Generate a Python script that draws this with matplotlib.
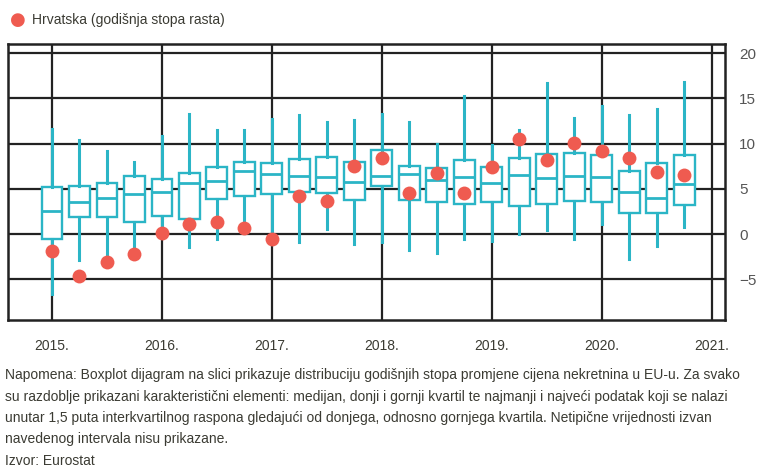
import matplotlib
matplotlib.use("Agg")
import matplotlib.pyplot as plt

# Quarterly periods 2015Q1 .. 2020Q4
years = [2015, 2016, 2017, 2018, 2019, 2020]
quarters = [0.0, 0.25, 0.5, 0.75]

whislo = [-6.6, -2.9, -2.6, -1.8, 0.2, -1.4, -0.6, 0.8,
          -0.5, -0.85, 0.6, -1.1, -0.9, -1.8, -2.1, -0.5,
          -0.75, 0.0, 0.5, -0.5, 1.1, -2.8, -1.3, 0.75]
q1 = [-0.55, 1.9, 1.9, 1.35, 2.0, 1.7, 3.9, 4.2,
      4.4, 4.7, 4.5, 3.75, 5.3, 3.75, 3.55, 3.3,
      3.55, 3.15, 3.35, 3.7, 3.5, 2.3, 2.3, 3.2]
med = [2.5, 3.5, 4.0, 4.4, 4.7, 5.6, 5.9, 6.95,
       6.6, 6.4, 6.3, 5.8, 6.4, 6.6, 6.0, 6.25,
       5.6, 6.5, 6.2, 6.4, 6.3, 4.6, 3.95, 5.5]
q3 = [5.2, 5.3, 5.65, 6.4, 6.1, 6.7, 7.4, 8.0,
      7.8, 8.3, 8.5, 8.0, 9.25, 7.5, 7.25, 8.2,
      7.4, 8.4, 8.8, 8.95, 8.7, 7.0, 7.9, 8.7]
whishi = [11.65, 10.4, 9.15, 8.0, 10.8, 13.3, 11.5, 11.5,
          12.7, 13.1, 12.4, 12.65, 13.3, 12.4, 10.0, 15.3,
          9.8, 11.5, 16.7, 12.85, 14.1, 13.2, 13.8, 16.85]
croatia = [-1.9, -4.6, -3.05, -2.2, 0.15, 1.1, 1.35, 0.7,
           -0.55, 4.2, 3.65, 7.5, 8.45, 4.5, 6.75, 4.55,
           7.4, 10.55, 8.15, 10.1, 9.15, 8.4, 6.9, 6.5]

xtick_labels = ["2015.", "2016.", "2017.", "2018.", "2019.", "2020.", "2021."]
ytick_values = [-5, 0, 5, 10, 15, 20]
legend_label = "Hrvatska (godišnja stopa rasta)"
note_lines = [
    "Napomena: Boxplot dijagram na slici prikazuje distribuciju godišnjih stopa promjene cijena nekretnina u EU-u. Za svako",
    "su razdoblje prikazani karakteristični elementi: medijan, donji i gornji kvartil te najmanji i najveći podatak koji se nalazi",
    "unutar 1,5 puta interkvartilnog raspona gledajući od donjega, odnosno gornjega kvartila. Netipične vrijednosti izvan",
    "navedenog intervala nisu prikazane.",
    "Izvor: Eurostat",
]

positions = [y + q for y in years for q in quarters]

FONT = ["Liberation Sans Narrow", "Liberation Sans", "DejaVu Sans"]
plt.rcParams["font.family"] = FONT

TEAL = "#2bb5c6"
RED = "#ef5b50"
TXT = "#3b3b33"

fig = plt.figure(figsize=(7.67, 4.71), dpi=100)
ax = fig.add_axes([8 / 767, (471 - 320) / 471, 717 / 767, 276 / 471])

stats = []
for i in range(len(positions)):
    stats.append(dict(whislo=whislo[i], q1=q1[i], med=med[i], q3=q3[i],
                      whishi=whishi[i], fliers=[]))

ax.bxp(stats, positions=positions, widths=0.19, patch_artist=True,
       showcaps=False, showfliers=False,
       boxprops=dict(facecolor="white", edgecolor=TEAL, linewidth=1.7),
       medianprops=dict(color=TEAL, linewidth=2.0),
       whiskerprops=dict(color=TEAL, linewidth=2.2),
       manage_ticks=False, zorder=3)

ax.plot(positions, croatia, linestyle="none", marker="o", markersize=10,
        color=RED, markeredgewidth=0, zorder=5)

ax.set_xlim(2014.6, 2021.12)
ax.set_ylim(-9.5, 21)

year_ticks = list(range(2015, 2022))
ax.set_xticks(year_ticks)
ax.set_xticklabels(xtick_labels, fontsize=10, color=TXT)
ax.set_yticks(ytick_values)
ax.set_yticklabels(["\u22125" if v == -5 else str(v) for v in ytick_values],
                   fontsize=11, color="#555555")
ax.yaxis.tick_right()
ax.tick_params(axis="both", length=0)
ax.tick_params(axis="y", pad=10)
ax.tick_params(axis="x", pad=14)

ax.grid(True, color="#222222", linewidth=1.6, zorder=0)
ax.set_axisbelow(True)
for s in ax.spines.values():
    s.set_color("#222222")
    s.set_linewidth(1.8)

# legend
fig.text(18 / 767, 1 - 20 / 471, "\u25cf", color=RED, fontsize=13,
         ha="center", va="center", family=["DejaVu Sans"])
fig.text(32 / 767, 1 - 20 / 471, legend_label, color=TXT, fontsize=10,
         ha="left", va="center")

# notes
y0 = 375
for k, line in enumerate(note_lines):
    fig.text(5 / 767, 1 - (y0 + k * 21.5) / 471, line, color=TXT,
             fontsize=10, ha="left", va="center")

fig.savefig("out.png", dpi=100)
